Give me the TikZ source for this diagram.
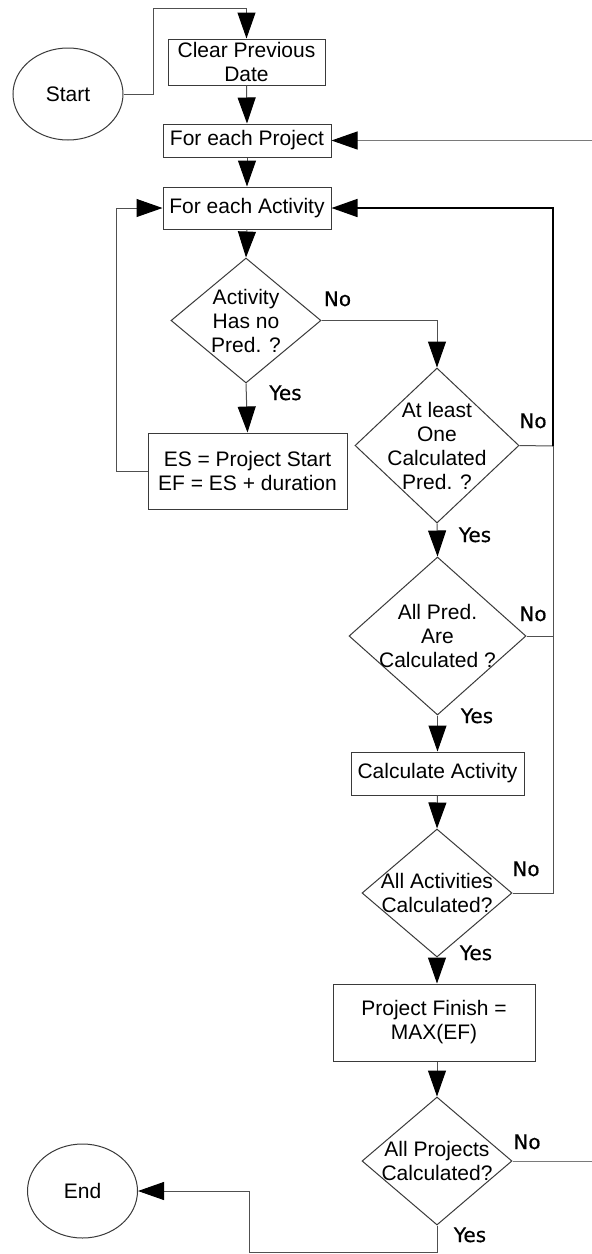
\documentclass[tikz,border=0pt]{standalone}
\usepackage{fontspec}
\setmainfont{Liberation Sans}
\newfontfamily\answerfont[FakeBold=0.6]{DejaVu Sans}
\usetikzlibrary{arrows.meta,shapes.geometric}

% text inside a decision diamond: takes no room, so the diamond keeps its given size
\newcommand\dtext[1]{\raisebox{-8pt}[0pt][0pt]{\makebox[0pt]{\begin{tabular}{@{}c@{}}#1\end{tabular}}}}

\definecolor{boxgray}{HTML}{3A3A3A}
\definecolor{linegray}{HTML}{505050}
\definecolor{feedgray}{HTML}{7A7A7A}

\tikzset{
  every node/.style={font=\fontsize{21}{24}\selectfont, text=black},
  box/.style={draw=boxgray, line width=1pt, rectangle, inner sep=0pt, align=center},
  decision/.style={draw=boxgray, line width=1pt, diamond, inner sep=0pt},
  terminal/.style={draw=boxgray, line width=1pt, ellipse, inner sep=0pt},
  conn/.style={draw=linegray, line width=1pt},
  flow/.style={conn, -{Triangle[length=26pt,width=18pt,color=black]}},
  answer/.style={font=\answerfont\fontsize{20}{22}\selectfont, anchor=base, inner sep=0pt},
}

\begin{document}
\begin{tikzpicture}[x=1pt,y=-1pt]
\fill[white] (0,0) rectangle (592,1254);
\useasboundingbox (0,0) rectangle (592,1254);

% ---- nodes ----
\node[terminal, minimum width=110pt, minimum height=92pt] (start) at (68,94) {Start};
\node[box, minimum width=157pt, minimum height=46pt] (clear) at (246.5,62) {Clear Previous\\Date};
\node[box, minimum width=168pt, minimum height=33pt] (proj) at (247,140.5) {For each Project};
\node[box, minimum width=168pt, minimum height=42pt] (act) at (247,208) {For each Activity};
\node[decision, minimum width=150pt, minimum height=125pt] (d1) at (246,320.5) {\dtext{Activity\\Has no\\Pred. ?}};
\node[box, minimum width=199pt, minimum height=76pt] (es) at (247.5,471) {ES = Project Start\\EF = ES + duration};
\node[decision, minimum width=164pt, minimum height=155pt] (d2) at (437,445.5) {\dtext{At least\\One\\Calculated\\Pred. ?}};
\node[decision, minimum width=177pt, minimum height=158pt] (d3) at (437.5,636) {\dtext{All Pred.\\Are\\Calculated ?}};
\node[box, minimum width=173pt, minimum height=43pt] (calc) at (437.5,773.5) {Calculate Activity};
\node[decision, minimum width=150pt, minimum height=128pt] (d4) at (437,893) {\dtext{All Activities\\Calculated?}};
\node[box, minimum width=202pt, minimum height=77pt] (pf) at (434,1022.5) {Project Finish =\\MAX(EF)};
\node[decision, minimum width=150pt, minimum height=128pt] (d5) at (437,1161) {\dtext{All Projects\\Calculated?}};
\node[terminal, minimum width=110pt, minimum height=94pt] (end) at (82.5,1191) {End};

% ---- helper points for the routed connectors ----
\coordinate (sbend) at (153,8);
\coordinate (lbend) at (116,471);
\coordinate (jA) at (553,446);
\coordinate (jB) at (553,636);
\coordinate (projin) at (592,140.5);
\coordinate (projout) at (592,1161);
\coordinate (bbend) at (249,1252.5);

% ---- connectors ----
\draw[flow] (start.east) -| (sbend) -| (clear.north);
\draw[flow] (clear.south) -- (proj.north);
\draw[flow] (proj.south) -- (act.north);
\draw[flow] (act.south) -- (d1.north);
\draw[flow] (d1.east) -| (d2.north);
\draw[flow] (d1.south) -- (es.north);
\draw[flow] (es.west) -- (lbend) |- (act.west);
\draw[conn] (d2.east) -- (jA);
\draw[flow] (d2.south) -- (d3.north);
\draw[conn] (d3.east) -- (jB) -- (jA);
\draw[flow] (d3.south) -- (calc.north);
\draw[flow] (calc.south) -- (d4.north);
\draw[conn] (d4.east) -| (jB);
\draw[flow, draw=black, line width=1.5pt] (jA) |- (act.east);
\draw[flow] (d4.south) -- (d4.south |- pf.north);
\draw[flow] (pf.south -| d5.north) -- (d5.north);
\draw[conn, draw=feedgray] (d5.east) -- (projout);
\draw[flow, draw=feedgray] (projin) -- (proj.east);
\draw[flow] (d5.south) |- (bbend) |- (end.east);

% ---- branch labels ----
\node[answer] (n1) at (337.5,306) {No};
\node[answer] (y1) at (285.5,400) {Yes};
\node[answer] (n2) at (533,428) {No};
\node[answer] (y2) at (475,542) {Yes};
\node[answer] (n3) at (533,621) {No};
\node[answer] (y3) at (477,723) {Yes};
\node[answer] (n4) at (526,876) {No};
\node[answer] (y4) at (476,960) {Yes};
\node[answer] (n5) at (527,1149) {No};
\node[answer] (y5) at (470,1242) {Yes};
\end{tikzpicture}
\end{document}
